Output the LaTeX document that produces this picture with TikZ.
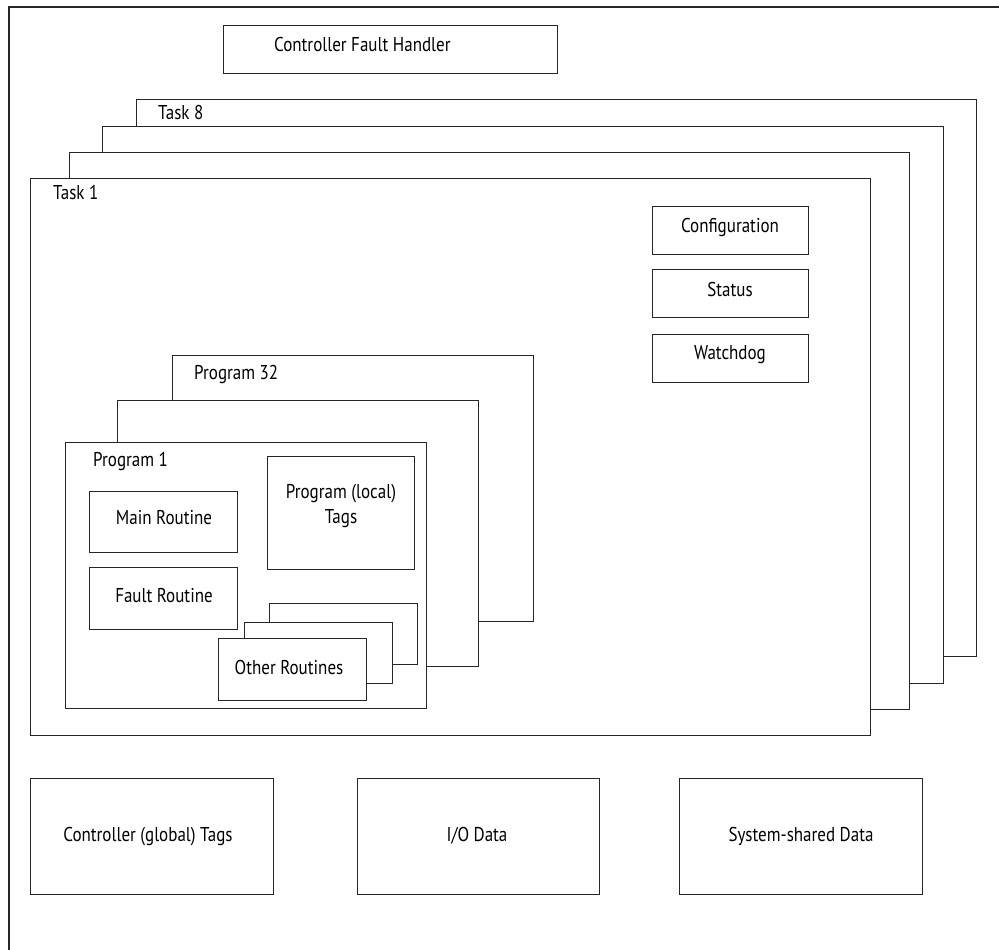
\documentclass[tikz,border=0pt]{standalone}
\usepackage{fontspec}
\setmainfont[FakeStretch=0.85]{PT Sans}
\begin{document}
\begin{tikzpicture}[x=1pt,y=-1pt,
  box/.style={draw=black!85, line width=1.3pt, fill=white, rectangle, inner sep=0pt, anchor=north west},
  txt/.style={font=\fontsize{20}{24}\selectfont, inner sep=0pt, text=black},
  lbl/.style={txt, anchor=base west},
  ctr/.style={txt, anchor=base}]
\useasboundingbox (0,0) rectangle (999,950);
% outer frame (partly visible)
\coordinate (fbl) at (9,950);
\coordinate (ftl) at (9,7);
\coordinate (ftr) at (999,7);
\draw[black!85, line width=1.3pt] (fbl) -- (ftl) -- (ftr);
% controller fault handler
\node[box, minimum width=334pt, minimum height=48pt] (cfh) at (223,25) {};
\node[lbl] (cfht) at (274,52) {Controller Fault Handler};
% tasks
\node[box, minimum width=840pt, minimum height=557pt] (t8) at (136,99) {};
\node[lbl] (t8t) at (158,119) {Task 8};
\node[box, minimum width=841pt, minimum height=557pt] (t7) at (102,126) {};
\node[box, minimum width=840pt, minimum height=557pt] (t6) at (69,152) {};
\node[box, minimum width=840pt, minimum height=557pt] (t1) at (30,178) {};
\node[lbl] (t1t) at (53,199) {Task 1};
% task properties
\node[box, minimum width=156pt, minimum height=48pt] (conf) at (652,206) {};
\node[ctr] (conft) at (730,232) {Configuration};
\node[box, minimum width=156pt, minimum height=48pt] (stat) at (652,269) {};
\node[ctr] (statt) at (730,296) {Status};
\node[box, minimum width=156pt, minimum height=48pt] (wdog) at (652,334) {};
\node[ctr] (wdogt) at (730,359) {Watchdog};
% programs
\node[box, minimum width=361pt, minimum height=266pt] (p32) at (172,355) {};
\node[lbl] (p32t) at (194,379) {Program 32};
\node[box, minimum width=361pt, minimum height=266pt] (p2) at (117,400) {};
\node[box, minimum width=361pt, minimum height=266pt] (p1) at (65,442) {};
\node[lbl] (p1t) at (93,466) {Program 1};
% routines
\node[box, minimum width=148pt, minimum height=61pt] (main) at (89,491) {};
\node[ctr] (maint) at (164,524) {Main Routine};
\node[box, minimum width=148pt, minimum height=62pt] (fault) at (89,567) {};
\node[ctr] (faultt) at (164,602) {Fault Routine};
\node[box, minimum width=147pt, minimum height=113pt] (tags) at (267,456) {};
\node[ctr] (tagst1) at (341,498) {Program (local)};
\node[ctr] (tagst2) at (341,523) {Tags};
\node[box, minimum width=148pt, minimum height=61pt] (or3) at (269,603) {};
\node[box, minimum width=148pt, minimum height=61pt] (or2) at (244,622) {};
\node[box, minimum width=148pt, minimum height=62pt] (or1) at (218,638) {};
\node[ctr] (or1t) at (289,674) {Other Routines};
% data
\node[box, minimum width=243pt, minimum height=116pt] (cgt) at (30,778) {};
\node[ctr] (cgtt) at (148,841) {Controller (global) Tags};
\node[box, minimum width=242pt, minimum height=116pt] (io) at (357,778) {};
\node[ctr] (iot) at (477,841) {I/O Data};
\node[box, minimum width=243pt, minimum height=116pt] (ssd) at (679,778) {};
\node[ctr] (ssdt) at (801,841) {System-shared Data};
\end{tikzpicture}
\end{document}
